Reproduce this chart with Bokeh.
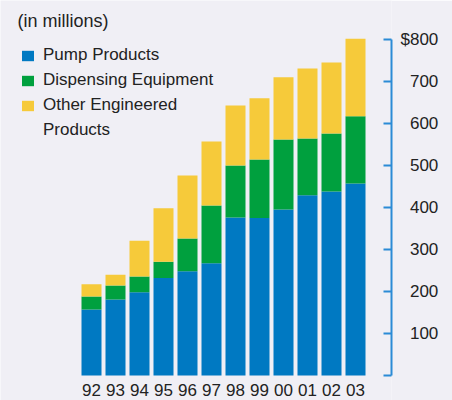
from bokeh.plotting import figure
from bokeh.models import (ColumnDataSource, Range1d, FixedTicker, Legend,
                          LegendItem, Label)
from bokeh.core.properties import value
from bokeh.embed import file_html
from bokeh.resources import INLINE

# ---- data (in millions of $) ----
years = ["92", "93", "94", "95", "96", "97", "98", "99", "00", "01", "02", "03"]
pump_products = [157, 181, 198, 232, 248, 267, 376, 375, 395, 429, 438, 457]
dispensing_equipment = [31, 33, 38, 39, 78, 138, 124, 139, 167, 135, 138, 160]
other_engineered = [29, 26, 85, 127, 150, 152, 143, 146, 148, 167, 169, 185]
series_names = ["Pump Products", "Dispensing Equipment", "Other Engineered"]
legend_extra_line = "Products"
y_ticks = [100, 200, 300, 400, 500, 600, 700, 800]
y_tick_labels = ["\u2007100", "\u2007200", "\u2007300", "\u2007400",
                 "\u2007500", "\u2007600", "\u2007700", "$800"]

colors = ["#0079c2", "#00a03e", "#f6ca3a"]
BG = "#f0eff5"
FONT = "Liberation Sans"
TXT = "#222222"

PX_PER_UNIT = 0.42          # vertical scale (pixels per $1M)
BASE_PX = 375               # pixel row of the value 0
FRAME_H = 400

source = ColumnDataSource(dict(
    x=list(range(len(years))),
    year=years,
    pump=pump_products,
    disp=dispensing_equipment,
    other=other_engineered,
))

p = figure(width=452, height=400, frame_width=391, frame_height=FRAME_H,
           x_range=Range1d(-91 / 24, 12.5),
           y_range=Range1d(-(FRAME_H - BASE_PX) / PX_PER_UNIT, BASE_PX / PX_PER_UNIT),
           x_axis_location=None, y_axis_location="right",
           output_backend="svg", toolbar_location=None,
           background_fill_color=BG, border_fill_color=BG,
           min_border_left=0, min_border_top=0, min_border_right=61,
           min_border_bottom=0)
p.outline_line_color = None
p.grid.visible = False

rs = p.vbar_stack(["pump", "disp", "other"], x="x", width=20 / 24,
                  color=colors, line_color=None, source=source)

# year labels under the bars (anchored at value 0)
p.text(x="x", y=0, text="year", source=source, y_offset=8,
       text_align="center", text_baseline="top",
       text_font=value(FONT), text_font_size="17px", text_color=TXT)

# y axis (right)
ya = p.yaxis[0]
ya.ticker = FixedTicker(ticks=[0] + y_ticks)
overrides = {t: l for t, l in zip(y_ticks, y_tick_labels)}
overrides[0] = ""
ya.major_label_overrides = overrides
ya.bounds = (0, 800)
ya.axis_line_color = "#2b8bd6"
ya.axis_line_width = 2
ya.major_tick_line_color = "#2b8bd6"
ya.major_tick_line_width = 2
ya.major_tick_in = 8
ya.major_tick_out = 0
ya.minor_tick_line_color = None
ya.major_label_standoff = 9
ya.major_label_text_font = FONT
ya.major_label_text_font_size = "17px"
ya.major_label_text_color = TXT

# invisible renderer so that the wrapped legend line has no swatch
blank = p.vbar(x=[], top=[], width=0.5, fill_alpha=0, line_alpha=0)

items = [LegendItem(label=n, renderers=[r]) for n, r in zip(series_names, rs)]
items.append(LegendItem(label=legend_extra_line, renderers=[blank]))
legend = Legend(items=items,
                location=(20, 260), padding=0, margin=0, spacing=5,
                glyph_width=15, glyph_height=13, label_standoff=8,
                label_text_font=FONT, label_text_font_size="17px",
                label_text_color=TXT,
                background_fill_alpha=0, border_line_alpha=0)
p.add_layout(legend)

p.add_layout(Label(x=17, y=FRAME_H - 20.5, x_units="screen", y_units="screen",
                   text="(in millions)", text_font=FONT, text_font_size="18px",
                   text_color=TXT, text_baseline="alphabetic"))

open("out.html", "w").write(file_html(p, INLINE))
